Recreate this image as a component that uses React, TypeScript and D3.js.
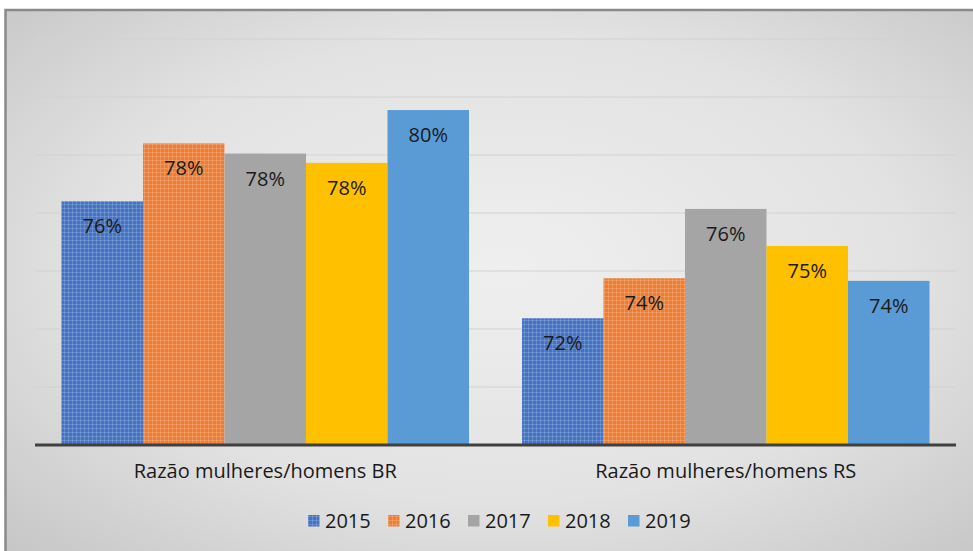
import React from "react";
import * as d3 from "d3";

const categories = ["Razão mulheres/homens BR", "Razão mulheres/homens RS"];
const years = ["2015", "2016", "2017", "2018", "2019"];
const values2015 = [0.764, 0.7237];
const values2016 = [0.784, 0.7375];
const values2017 = [0.7805, 0.7614];
const values2018 = [0.7773, 0.7486];
const values2019 = [0.7955, 0.7366];
const yTicks = [0.68, 0.7, 0.72, 0.74, 0.76, 0.78, 0.8, 0.82];

const seriesValues = [values2015, values2016, values2017, values2018, values2019];
const colors = ["#4472c4", "#ed7d31", "#a5a5a5", "#ffc000", "#5b9bd5"];
const patterned = [true, true, false, false, false];

const W = 973;
const H = 551;
const plotLeft = 35;
const plotRight = 956;
const plotTop = 39;
const plotBottom = 445;
const FONT = "'Open Sans', 'DejaVu Sans', sans-serif";

export default function App() {
  const x0 = d3.scaleBand<string>().domain(categories).range([plotLeft, plotRight]).paddingInner(0).paddingOuter(0);
  const gapFrac = 0.65 / (5 + 0.65);
  const y = d3.scaleLinear().domain([0.68, 0.82]).range([plotBottom, plotTop]);
  const fmt = d3.format(".0%");

  return (
    <svg width={W} height={H} style={{ position: "absolute", left: 0, top: 0 }} fontFamily={FONT}>
      <defs>
        <radialGradient id="bg" cx="50%" cy="45%" r="75%">
          <stop offset="0%" stopColor="#efefef" />
          <stop offset="55%" stopColor="#e2e2e2" />
          <stop offset="100%" stopColor="#c2c2c2" />
        </radialGradient>
        {years.map((yr, i) => (
          <pattern key={yr} id={`pat${i}`} width={4} height={4} patternUnits="userSpaceOnUse">
            <rect width={4} height={4} fill={colors[i]} />
            <rect x={0} y={0} width={4} height={1} fill="#ffffff" opacity={0.17} />
            <rect x={0} y={0} width={1} height={4} fill="#ffffff" opacity={0.17} />
          </pattern>
        ))}
      </defs>
      <rect x={0} y={0} width={W} height={H} fill="#ffffff" />
      <rect x={5.5} y={10} width={W + 20} height={H + 20} fill="url(#bg)" stroke="#8a8a8a" strokeWidth={2.5} />

      {yTicks.slice(1).map((t) => (
        <line key={t} x1={plotLeft} x2={plotRight} y1={y(t)} y2={y(t)} stroke="#d2d2d2" strokeWidth={1.2} />
      ))}

      {categories.map((cat, ci) => {
        const bx = x0(cat)!;
        const bw = x0.bandwidth();
        const x1 = d3
          .scaleBand<string>()
          .domain(years)
          .range([bx + (bw * gapFrac) / 2, bx + bw - (bw * gapFrac) / 2])
          .padding(0);
        return (
          <g key={cat}>
            {years.map((yr, si) => {
              const v = seriesValues[si][ci];
              const xx = x1(yr)!;
              const top = y(v);
              return (
                <g key={yr}>
                  <rect
                    x={xx}
                    y={top}
                    width={x1.bandwidth()}
                    height={plotBottom - top}
                    fill={patterned[si] ? `url(#pat${si})` : colors[si]}
                  />
                  <text
                    x={xx + x1.bandwidth() / 2}
                    y={top + 32}
                    textAnchor="middle"
                    fontSize={20}
                    fill="#1a1a1a"
                  >
                    {fmt(v)}
                  </text>
                </g>
              );
            })}
            <text x={bx + bw / 2} y={478} textAnchor="middle" fontSize={20} fill="#1a1a1a">
              {cat}
            </text>
          </g>
        );
      })}

      <line x1={plotLeft} x2={plotRight} y1={plotBottom} y2={plotBottom} stroke="#404040" strokeWidth={3.2} />

      {years.map((yr, i) => {
        const lx = 308 + i * 80;
        return (
          <g key={yr}>
            <rect x={lx} y={515} width={11.5} height={11.5} fill={patterned[i] ? `url(#pat${i})` : colors[i]} />
            <text x={lx + 17} y={528} fontSize={20} fill="#1a1a1a">
              {yr}
            </text>
          </g>
        );
      })}
    </svg>
  );
}
